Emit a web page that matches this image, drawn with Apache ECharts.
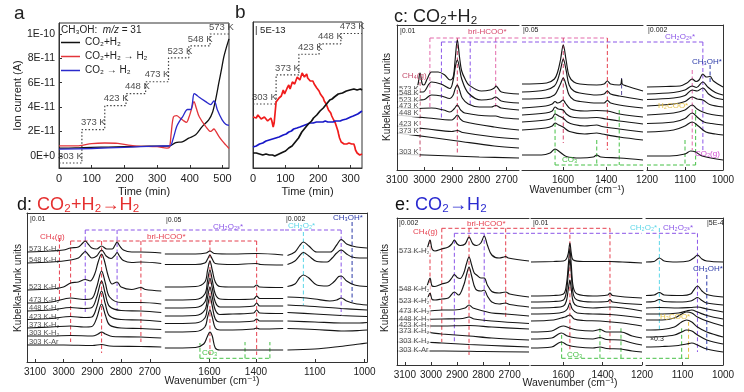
<!DOCTYPE html>
<html>
<head>
<meta charset="utf-8">
<title>chart</title>
<script src="https://cdn.jsdelivr.net/npm/echarts@6.0.0/dist/echarts.min.js"></script>
<style>html,body{margin:0;padding:0;background:#fff;}#chart{width:744px;height:392px;}</style>
</head>
<body>
<div id="chart"></div>
<script>
// ===== Panel a: CH3OH (m/z = 31) ion current, values in units of 1E-11 A, vs time (min) =====
const a_black = [[0,0.63],[50,0.65],[100,0.7],[150,0.72],[200,0.75],[250,0.78],[300,0.8],[340,0.82],[357,1.09],[377,1.15],[397,1.45],[418,1.72],[438,2.4],[458,2.95],[470,3.6],[479,4.6],[489,6.0],[497,7.1],[504,8.1],[512,8.9],[520,9.6]];
const a_red = [[0,0.82],[60,0.82],[70,0.85],[100,1.0],[140,1.05],[180,1.02],[230,0.82],[300,0.75],[330,0.63],[338,0.7],[343,1.8],[350,3.2],[360,3.3],[370,3.1],[380,2.9],[390,2.75],[398,3.2],[405,3.8],[413,4.45],[420,3.9],[429,3.2],[449,2.4],[464,2.0],[474,2.2],[480,2.0],[489,1.6],[500,1.2],[510,0.9],[520,0.6]];
const a_blue = [[0,0.55],[100,0.6],[200,0.7],[300,0.8],[340,0.82],[348,1.3],[360,2.4],[370,2.9],[378,3.2],[393,3.8],[403,3.8],[408,4.3],[413,5.1],[420,5.0],[429,4.8],[449,4.45],[464,4.2],[474,4.5],[479,4.3],[484,3.8],[499,2.95],[510,2.6],[520,2.5]];
const a_step_time = [0,70,140,205,265,335,397,462,520];
const a_step_temp = [303,373,423,448,473,523,548,573];
const a_yticks = [0,2,4,6,8,10];
const a_xticks = [0,100,200,300,400,500];
const legendNames = ['CO\u2082+H\u2082','CO\u2082+H\u2082 \u2192 H\u2082','CO\u2082 \u2192 H\u2082'];

// ===== Panel b: zoomed ion current (relative units, scale bar 5E-13) =====
const b_red = [[0,51],[5,49],[10,50],[15,53],[20,52],[25,49],[30,48],[35,51],[40,50],[45,47],[50,49],[55,50],[58,47],[62,41],[65,45],[68,44],[71,66],[75,64],[80,70],[84,68],[87,72],[90,75],[93,78],[97,74],[100,76],[105,80],[110,83],[114,79],[117,81],[121,86],[124,88],[128,84],[132,86],[136,91],[140,92],[144,88],[147,90],[151,95],[155,96],[158,91],[160,93],[165,94],[168,90],[172,89],[176,87],[180,86],[184,87],[188,84],[192,82],[196,80],[200,79],[203,77],[207,74],[210,72],[213,73],[216,70],[219,67],[222,65],[225,64],[228,62],[232,58],[235,56],[239,55],[242,52],[245,50],[248,48],[250,46],[253,45],[256,42],[258,40],[261,37],[263,34],[266,30],[268,28],[271,26],[274,25],[277,27],[280,24],[283,23],[285,26],[288,24],[290,23],[293,26],[295,25],[298,23],[300,25],[303,24],[305,22],[308,25],[310,24],[313,21],[315,18],[318,16],[320,15],[323,17],[325,14],[328,13],[330,13],[333,15],[335,14]];
const b_blue = [[0,21],[10,22],[20,24],[30,25],[40,27],[50,28],[60,29],[70,30],[80,31],[93,33],[102,34],[110,36],[118,37],[125,39],[135,40],[144,41],[152,42],[160,43],[168,44],[175,45],[185,45],[195,46],[205,46],[215,46],[222,47],[230,46],[238,46],[246,46],[253,47],[260,47],[268,47],[275,48],[281,48],[287,49],[293,50],[300,51],[308,52],[315,53],[322,54],[328,55],[335,57]];
const b_black = [[0,15],[5,14],[10,15],[20,14],[30,13],[40,14],[50,13],[60,13],[67,12],[73,13],[80,14],[85,15],[93,16],[100,17],[105,18],[110,20],[115,21],[120,22],[125,24],[130,26],[134,28],[140,30],[145,33],[150,36],[155,38],[160,40],[165,42],[170,44],[175,46],[180,47],[186,50],[191,52],[196,53],[201,55],[206,57],[211,58],[216,60],[221,62],[226,64],[231,66],[236,68],[243,69],[250,71],[256,72],[262,74],[268,74],[275,75],[281,76],[287,77],[292,77],[298,78],[304,79],[310,79],[315,78],[320,78],[325,79],[330,79],[335,78]];
const b_step_time = [0,71,141,203,270,335];
const b_step_temp = [303,373,423,448,473];
const b_xticks = [0,100,200,300];

// ===== Panel c: CO2+H2 DRIFTS (wavenumber, stacked Kubelka-Munk) =====
const c_labels = ['573 K','548 K','523 K','473 K','448 K','423 K','373 K','303 K'];
const c1_573 = [[3100,79],[3040,80.5],[3026,83],[3016,97],[3008,86],[3002,85],[2990,91],[2974,98],[2950,98],[2926,95],[2906,90],[2895,93],[2888,110],[2880,130],[2872,113],[2864,99],[2850,90],[2838,85],[2792,79],[2760,80],[2745,82],[2739,84],[2732,82],[2719,78],[2655,76]];
const c1_548 = [[3100,75],[3030,76],[3016,78],[3005,78],[2974,88],[2940,86],[2907,81.5],[2895,90],[2888,102],[2880,110],[2872,102],[2864,91],[2840,77],[2792,70],[2756,71],[2740,73],[2720,69],[2655,67]];
const c1_523 = [[3100,68],[3030,69],[3016,70],[3000,70.5],[2974,75],[2938,74],[2907,71.5],[2895,75],[2888,81],[2880,85],[2872,80],[2862,72],[2840,66],[2800,63],[2756,63],[2740,64.5],[2720,62],[2655,60]];
const c1_473 = [[3100,62.5],[3035,61.5],[2974,62],[2930,60],[2907,58],[2892,61],[2880,65],[2868,60],[2853,57],[2760,54],[2740,54],[2720,52.5],[2655,51]];
const c1_448 = [[3100,55],[2986,52],[2901,50],[2890,52],[2880,55],[2869,51],[2857,48.5],[2745,43],[2655,40]];
const c1_423 = [[3100,44],[2986,41],[2900,38.5],[2880,39.5],[2860,37.5],[2745,33],[2655,31]];
const c1_373 = [[3100,37],[2986,33],[2880,29],[2745,24],[2655,22]];
const c1_303 = [[3100,16],[3000,15],[2900,14],[2800,13],[2655,12]];
const c2_573 = [[1790,86],[1676,87],[1640,91],[1625,98],[1612,110],[1599,125],[1586,110],[1572,94],[1550,88],[1522,86],[1444,85],[1410,86],[1395,89],[1380,86],[1340,85],[1332,86],[1329,91],[1326,86],[1306,84],[1230,79]];
const c2_548 = [[1790,78],[1680,80],[1640,84],[1625,90],[1612,100],[1599,111],[1586,100],[1572,85],[1550,79],[1522,77],[1444,75],[1410,76],[1395,79],[1380,76],[1340,74],[1230,70]];
const c2_523 = [[1790,71],[1680,72],[1640,75],[1625,80],[1612,86],[1599,92],[1586,85],[1572,75],[1550,70],[1520,68.5],[1444,67],[1410,67],[1395,69.5],[1380,67],[1340,65],[1230,62]];
const c2_473 = [[1790,62],[1680,64],[1650,66],[1637,68.5],[1625,67],[1612,68],[1600,70],[1588,66.5],[1565,61],[1500,59],[1444,59.5],[1395,59],[1340,56],[1230,53]];
const c2_448 = [[1790,55],[1680,57],[1650,59],[1637,63],[1622,61],[1600,60],[1585,56],[1560,53],[1500,52],[1444,52.5],[1400,51],[1340,49],[1230,46]];
const c2_423 = [[1790,48],[1680,50],[1650,52],[1637,56],[1620,54],[1600,52],[1580,48],[1550,45.5],[1500,44],[1444,45],[1420,43.5],[1340,41],[1230,38]];
const c2_373 = [[1790,40],[1680,42],[1650,44],[1637,47],[1620,45],[1600,43],[1570,38.5],[1500,36],[1444,37],[1420,36],[1340,33],[1230,30]];
const c2_303 = [[1790,15],[1700,15],[1660,17],[1637,21],[1615,18],[1585,13.5],[1520,12],[1460,13],[1444,15],[1425,13],[1340,12],[1230,10]];
const c3_573 = [[1200,83],[1150,83.5],[1113,84],[1095,87],[1081,91],[1071,88.5],[1063,90],[1053,96],[1044,93],[1034,93.5],[1025,89],[1000,83]];
const c3_548 = [[1200,76],[1130,77.5],[1100,80],[1081,84],[1070,82.5],[1053,88],[1040,83],[1020,77.5],[1000,75]];
const c3_523 = [[1200,70.5],[1130,72],[1100,74.5],[1081,80],[1068,79],[1053,82],[1038,76],[1020,72],[1000,70.5]];
const c3_473 = [[1200,64],[1130,66],[1100,68.5],[1081,73],[1068,71],[1053,70],[1035,65.5],[1000,63]];
const c3_448 = [[1200,55],[1130,57],[1100,60],[1081,65],[1068,61],[1053,58],[1030,55.5],[1000,54]];
const c3_423 = [[1200,46.5],[1130,48],[1100,51.5],[1081,57],[1065,52],[1050,48],[1030,46.5],[1000,45]];
const c3_373 = [[1200,38],[1130,40],[1100,44],[1081,48],[1065,44],[1045,38],[1020,36],[1000,35]];
const c3_303 = [[1200,14],[1140,14],[1100,16],[1085,19],[1072,18],[1055,14],[1000,10]];
// assignment guide lines: [colour, w0, v0, w1, v1]
const c1_marks = [['pink',2980,132,2655,132],['pink',2980,132,2980,63],['crimson',2880,132,2880,17],['pink',2740,132,2740,62],['purple',2938,128,2655,128],['purple',2938,128,2938,50],['purple',2833,128,2833,63],['ch4',3016,88,3016,13]];
const c2_marks = [['pink',1790,132,1395,132],['crimson',1599,132,1599,27],['red',1395,132,1395,20],['purple',1790,128,1230,128],['dark',1329,92,1329,75],['green',1637,60,1637,5],['green',1444,30,1444,5],['green',1340,60,1340,5],['green',1637,5,1230,5]];
const c3_marks = [['purple',1200,128,1053,128],['purple',1053,128,1053,20],['pink',1081,100,1081,20],['navy',1034,105,1034,87],['green',1200,5,1072,5],['green',1100,30,1100,5],['green',1072,60,1072,5]];

// ===== Panel d: CO2+H2 -> H2 =====
const d_labels = ['573 K-H\u2082','548 K-H\u2082','523 K-H\u2082','473 K-H\u2082','448 K-H\u2082','423 K-H\u2082','373 K-H\u2082','303 K-H\u2082','303 K-Ar'];
const d1_573 = [[3128,110],[3042,111],[3001,112],[2976,114],[2949,115],[2935,118.5],[2925,121],[2915,118],[2902,114],[2885,113],[2868,116],[2850,113],[2831,113],[2822,116.5],[2814,120],[2806,116.5],[2792,112],[2763,110],[2731,110],[2660,109]];
const d1_548 = [[3128,99],[3042,100],[2976,102],[2949,104],[2935,108],[2925,110.5],[2915,107.5],[2902,104],[2885,106],[2868,112],[2852,106],[2835,103.5],[2822,106.5],[2814,109.5],[2806,106],[2792,101.5],[2763,99.5],[2731,100],[2660,98.5]];
const d1_523 = [[3128,72],[3042,73],[3001,75],[2976,79],[2949,80],[2925,82.5],[2908,81],[2892,88],[2880,100],[2868,108],[2858,101],[2845,86],[2831,78],[2814,80],[2800,75],[2763,72.5],[2731,74.5],[2715,72.5],[2660,71]];
const d1_473 = [[3128,59],[3042,60],[2976,64],[2930,62.5],[2902,63.5],[2885,75],[2868,91],[2855,79],[2840,65],[2800,59.5],[2731,59.5],[2660,58]];
const d1_448 = [[3128,51],[3042,52],[2976,54.5],[2930,53.5],[2902,54.5],[2885,65],[2868,81],[2855,68],[2840,55.5],[2800,51.5],[2731,51],[2660,49.5]];
const d1_423 = [[3128,42.5],[3042,43.5],[2976,45.5],[2930,44.5],[2902,45],[2885,55],[2868,71],[2855,58],[2840,46],[2800,42.5],[2731,42],[2660,40.5]];
const d1_373 = [[3128,34],[3042,35],[2976,36],[2930,35],[2902,35.5],[2885,44],[2868,58],[2855,47],[2840,37],[2800,34],[2731,33.5],[2660,32.5]];
const d1_303H = [[3128,26],[3042,26],[2976,26.5],[2900,26],[2880,28],[2868,30],[2855,28],[2830,25.5],[2731,25],[2660,24]];
const d1_303A = [[3128,17],[3000,17],[2900,16.5],[2868,17.5],[2840,16],[2731,15.5],[2660,15]];
const d2_573 = [[1792,108],[1660,108],[1615,109],[1598,111],[1580,108.5],[1500,108],[1397,108.5],[1283,107]];
const d2_548 = [[1792,97.5],[1660,97.5],[1620,99],[1608,103],[1598,107],[1588,103],[1575,98.5],[1500,97.5],[1397,98.5],[1380,97.5],[1283,97]];
const d2_523 = [[1792,75],[1660,75.5],[1620,80],[1608,92],[1598,101],[1588,92],[1575,80],[1555,75.5],[1500,75],[1410,75],[1397,77],[1385,75],[1283,74.5]];
const d2_473 = [[1792,62],[1660,62.5],[1620,68],[1608,82],[1598,92],[1588,82],[1575,68],[1555,63],[1500,62.5],[1410,63],[1397,66],[1384,63.5],[1283,63.5]];
const d2_448 = [[1792,54],[1660,54.5],[1620,60],[1608,74],[1598,84],[1588,74],[1575,60],[1555,55],[1500,55],[1410,56],[1397,59],[1384,56],[1283,56]];
const d2_423 = [[1792,46],[1660,46.5],[1620,52],[1608,65],[1598,75],[1588,65],[1575,52],[1555,47.5],[1500,48],[1410,49],[1397,52],[1384,49],[1283,48.5]];
const d2_373 = [[1792,38.5],[1660,39],[1620,44],[1608,56],[1598,66],[1588,56],[1575,43],[1555,40],[1500,40],[1410,41],[1397,43],[1384,41],[1283,41]];
const d2_303H = [[1792,30],[1660,30.5],[1620,35],[1608,45],[1598,52],[1588,45],[1575,34],[1555,32],[1500,32],[1410,33],[1397,34],[1384,33],[1283,33.5]];
const d2_303A = [[1792,14],[1660,14.5],[1625,18],[1610,25],[1598,30],[1588,26],[1575,14],[1555,12],[1500,12],[1400,12],[1283,12]];
const d3_573 = [[1155,106.5],[1140,110],[1131,116],[1123,120],[1112,116],[1096,110],[1069,110],[1056,117],[1047,122.5],[1036,118],[1025,116],[1016,115],[995,114]];
const d3_548 = [[1155,97.5],[1140,101],[1131,106],[1123,109.5],[1112,106],[1096,100.5],[1075,100],[1065,104],[1056,109],[1047,112],[1036,108],[1025,105],[1010,104],[995,104]];
const d3_523 = [[1155,75.5],[1140,78],[1131,84],[1123,87],[1112,84],[1096,77],[1075,76],[1062,80],[1052,85.5],[1047,86],[1036,81],[1020,77],[995,75.5]];
const d3_473 = [[1155,65],[1130,64.5],[1100,63],[1070,61],[1056,62],[1047,64],[1036,61],[1020,58.5],[995,57]];
const d3_448 = [[1155,57],[1100,55.5],[1047,53.5],[995,52]];
const d3_423 = [[1155,49.5],[1100,48],[1047,46.5],[995,45.5]];
const d3_373 = [[1155,41],[1100,40],[1047,39],[1010,39],[995,39.5]];
const d3_303H = [[1155,33.5],[1100,32.5],[1047,31],[1010,31.5],[995,32]];
const d3_303A = [[1155,12],[1100,13],[1050,15.5],[1010,18],[995,19]];
const d1_marks = [['red',2976,121,2654,121],['red',2976,121,2976,20],['red',2868,121,2868,9],['red',2731,121,2731,20],['purple',2925,132,2654,132],['purple',2925,132,2925,50],['purple',2814,132,2814,52],['red',3015,124,3015,59]];
const d2_marks = [['red',1800,121,1397,121],['red',1598,121,1598,7],['red',1397,121,1397,7],['purple',1800,132,1275,132],['green',1641,3.7,1340,3.7],['green',1641,3.7,1641,19],['green',1447,3.7,1447,20],['green',1340,3.7,1340,20]];
const d3_marks = [['purple',1160,132,1047,132],['purple',1047,132,1047,47],['cyan',1123,130,1123,57],['navy',1025,140,1025,60]];

// ===== Panel e: CO2 -> H2 =====
const e_labels = d_labels;
const e1_573 = [[3130,113],[3042,113],[3018,115],[3004,125],[2996,116],[2985,114],[2959,116],[2934,118],[2921,121],[2911,125],[2900,121],[2889,119.5],[2870,121],[2855,128],[2840,121],[2826,119.5],[2810,122],[2797,129],[2785,120],[2768,110],[2740,107],[2722,108],[2715,108.5],[2705,107],[2626,104]];
const e1_548 = [[3130,75],[3042,76],[3018,78],[3004,87],[2996,79],[2985,78.5],[2959,81],[2934,83],[2921,87],[2911,90.5],[2900,87.5],[2889,86.5],[2875,92],[2865,101],[2855,108],[2845,100],[2835,92],[2826,90],[2810,87],[2797,87],[2785,80],[2768,73.5],[2740,72],[2715,73],[2700,71],[2626,68]];
const e1_523 = [[3130,63],[3042,64],[3018,65],[3004,72],[2996,65.5],[2985,65],[2959,66],[2934,67],[2911,73],[2895,70],[2875,80],[2865,90],[2855,98],[2845,89],[2830,76],[2810,74],[2797,75],[2785,69],[2768,63],[2740,61],[2715,62],[2700,60.5],[2626,58]];
const e1_473 = [[3130,53],[3042,53.5],[3004,54],[2959,55],[2911,55],[2870,57],[2855,60],[2840,57],[2800,54],[2768,52],[2715,51],[2626,49]];
const e1_448 = [[3130,45],[3042,45.5],[2959,46],[2880,46.5],[2855,48],[2835,46],[2768,44],[2626,41.5]];
const e1_423 = [[3130,39],[3042,39],[2959,39],[2855,39.5],[2768,38],[2626,36]];
const e1_373 = [[3130,33],[3042,33],[2959,31],[2855,29],[2768,27],[2626,25]];
const e1_303H = [[3130,23],[3042,23],[2959,22],[2855,20.5],[2768,19.5],[2626,18]];
const e1_303A = [[3130,14],[2950,14],[2800,13.5],[2626,13]];
const e2_573 = [[1765,103],[1650,103.5],[1600,104],[1585,106],[1575,112],[1567,122],[1560,112],[1550,105],[1500,103.5],[1363,103.5],[1300,103],[1200,102]];
const e2_548 = [[1765,69],[1650,69.5],[1600,71],[1585,80],[1575,100],[1567,116],[1560,100],[1550,78],[1530,71],[1450,69],[1375,70],[1363,72],[1350,69.5],[1200,67]];
const e2_523 = [[1765,63],[1650,63.5],[1600,65],[1585,73],[1575,92],[1567,106],[1560,92],[1550,71],[1530,65],[1450,63],[1375,63.5],[1363,65.5],[1350,63],[1200,60.5]];
const e2_473 = [[1765,57],[1650,57.5],[1600,59],[1585,64],[1575,76],[1567,85],[1560,76],[1550,63],[1530,59],[1450,57],[1363,58],[1200,54]];
const e2_448 = [[1765,51],[1650,51.5],[1600,53],[1580,56],[1567,62],[1555,56],[1530,52],[1450,51],[1363,50.5],[1200,47]];
const e2_423 = [[1765,44],[1650,45],[1610,47],[1590,48],[1567,50],[1545,46],[1500,44.5],[1414,44],[1300,42],[1200,39]];
const e2_373 = [[1765,33],[1660,34],[1620,38],[1600,39],[1570,37],[1530,35],[1450,34],[1414,35.5],[1380,33],[1307,33],[1250,29],[1200,27]];
const e2_303H = [[1765,26],[1660,27],[1625,31],[1610,32],[1580,29],[1530,27],[1450,26],[1414,27.5],[1380,25.5],[1307,25],[1250,22],[1200,20]];
const e2_303A = [[1765,17],[1660,18],[1625,22],[1610,23],[1580,20],[1530,18],[1450,17],[1414,18],[1380,16.5],[1307,16],[1250,14],[1200,13]];
const e3_573 = [[1190,103],[1170,103.5],[1157,107],[1145,104],[1114,103],[1085,104],[1072,107],[1063,110],[1052,106],[1040,104],[1000,103]];
const e3_548 = [[1190,69.5],[1170,70],[1157,72.5],[1145,70],[1100,69.5],[1080,71],[1072,75],[1063,79],[1052,74],[1040,70.5],[1000,68]];
const e3_523 = [[1190,63],[1170,63.5],[1157,65.5],[1145,63.5],[1100,63],[1080,64],[1072,65.5],[1063,67.5],[1052,64.5],[1040,62],[1000,60]];
const e3_473 = [[1190,57],[1157,57.5],[1110,57],[1080,57.5],[1063,58],[1040,56],[1000,53]];
const e3_448 = [[1190,51],[1150,51],[1110,52],[1090,54],[1077,55],[1063,53],[1040,49.5],[1000,46]];
const e3_423 = [[1190,45],[1150,45],[1120,47],[1102,51],[1090,53],[1077,52],[1063,48],[1040,44],[1000,39]];
const e3_373 = [[1190,35],[1150,35.5],[1120,38],[1102,43],[1090,45],[1077,43],[1063,38],[1040,33],[1000,28]];
const e3_303H = [[1190,28],[1150,28.5],[1120,30],[1102,33],[1090,35],[1077,34],[1063,30],[1040,25],[1000,21]];
const e3_303A = [[1190,18],[1150,18.5],[1110,19.5],[1090,21],[1077,22],[1063,20],[1040,16],[1000,13]];
const e1_marks = [['red',2959,136.7,2626,136.7],['red',2959,136.7,2959,23],['red',2855,136.7,2855,10],['red',2715,136.7,2715,48],['purple',2911,131.7,2626,131.7],['purple',2911,131.7,2911,23],['purple',2797,131.7,2797,42],['red',3004,125,3004,33]];
const e2_marks = [['red',1765,136.7,1363,136.7],['red',1567,136.7,1567,13],['red',1363,136.7,1363,13],['purple',1765,131.7,1200,131.7],['green',1609,6.7,1200,6.7],['green',1609,6.7,1609,30],['green',1414,6.7,1414,38],['green',1307,6.7,1307,38]];
const e3_marks = [['purple',1190,131.7,1063,131.7],['purple',1063,131.7,1063,13],['cyan',1157,137,1157,35],['navy',1040,90,1040,13],['green',1190,6.7,1081,6.7],['green',1102,6.7,1102,38],['yellow',1085,6.7,1085,45]];

// ===================== building the chart =====================
const FONT = "'Liberation Sans','DejaVu Sans',Arial,sans-serif";
const COL = {red:'#e5404f', crimson:'#d6486e', pink:'#e36aab', purple:'#8b56e8', navy:'#2b3aa8', green:'#46c046', cyan:'#5cd6e8', yellow:'#e6c34a', magenta:'#d04cd0', ch4:'#c24a6a', dark:'#5a4a9a'};
const grids = [], xAxis = [], yAxis = [], series = [], graphic = [];
const plain = v => String(v);

function txt(x, y, text, o) {
  o = o || {};
  graphic.push({type:'text', x:x, y:y, rotation:o.rot || 0, silent:true, z:50,
    style:{text:text, fill:o.color || '#222', fontSize:o.size || 8, fontFamily:FONT,
      fontWeight:o.weight || 'normal', align:o.align || 'left', verticalAlign:'middle', rich:o.rich}});
}
const hidden = {axisLine:{show:false}, axisTick:{show:false}, axisLabel:{show:false}, splitLine:{show:false}};
const lineAx = {show:true, onZero:false, lineStyle:{color:'#333', width:1}};

function staircase(times, temps) {
  const pts = [];
  temps.forEach((T, i) => { pts.push([times[i], T]); pts.push([times[i + 1], T]); });
  return pts;
}
const stepLabel = {show:true, position:'right', distance:0, offset:[-1,-7], fontSize:9.5, color:'#222', fontFamily:FONT, formatter: p => p.value[1] + ' K'};

// ---- panel a ----
(function () {
  const g = grids.length;
  grids.push({left:59, top:23, width:170, height:145, show:true, borderColor:'#333', borderWidth:1, containLabel:false, outerBoundsMode:'none'});
  const xi = xAxis.length;
  xAxis.push({type:'value', gridIndex:g, min:0, max:520, axisLine:lineAx,
    axisTick:{show:true, inside:true, length:3, customValues:a_xticks, lineStyle:{color:'#333'}},
    axisLabel:{customValues:a_xticks, fontSize:11, color:'#222', margin:5, fontFamily:FONT, formatter:plain},
    splitLine:{show:false}, name:'Time (min)', nameLocation:'middle', nameGap:18,
    nameTextStyle:{fontSize:11, color:'#222', fontFamily:FONT}});
  const yi = yAxis.length;
  yAxis.push({type:'value', gridIndex:g, min:-1, max:10.9, axisLine:lineAx,
    axisTick:{show:true, inside:true, length:3, customValues:a_yticks, lineStyle:{color:'#333'}},
    axisLabel:{customValues:a_yticks, fontSize:10.5, color:'#222', margin:4, fontFamily:FONT,
      formatter: v => v === 0 ? '0E+0' : (v === 10 ? '1E-10' : v + 'E-11')},
    splitLine:{show:false}, name:'Ion current (A)', nameLocation:'middle', nameGap:35,
    nameTextStyle:{fontSize:11, color:'#222', fontFamily:FONT}});
  const ti = yAxis.length;
  yAxis.push(Object.assign({type:'value', gridIndex:g, min:292.5, max:596}, hidden));
  series.push({type:'line', name:'steps', xAxisIndex:xi, yAxisIndex:ti, data:staircase(a_step_time, a_step_temp), symbol:'none', silent:true, z:2,
    lineStyle:{color:'#444', width:1.2, type:[1.5,2]}});
  series.push({type:'scatter', xAxisIndex:xi, yAxisIndex:ti, symbolSize:0, silent:true, z:6,
    data:a_step_temp.map((T, i) => [a_step_time[i], T]), label:stepLabel});
  const cols = ['#111', '#e3343a', '#2a2acb'];
  [a_black, a_red, a_blue].forEach((d, i) => series.push({type:'line', name:legendNames[i], xAxisIndex:xi, yAxisIndex:yi, data:d, symbol:'none', smooth:0.3, z:4, lineStyle:{color:cols[i], width:1.3}, itemStyle:{color:cols[i]}}));
})();

// ---- panel b ----
(function () {
  const g = grids.length;
  grids.push({left:253, top:22, width:109, height:146, show:true, borderColor:'#333', borderWidth:1, containLabel:false, outerBoundsMode:'none'});
  const xi = xAxis.length;
  xAxis.push({type:'value', gridIndex:g, min:0, max:335, axisLine:lineAx,
    axisTick:{show:true, inside:true, length:3, customValues:b_xticks, lineStyle:{color:'#333'}},
    axisLabel:{customValues:b_xticks, fontSize:11, color:'#222', margin:5, fontFamily:FONT, formatter:plain},
    splitLine:{show:false}, name:'Time (min)', nameLocation:'middle', nameGap:18,
    nameTextStyle:{fontSize:11, color:'#222', fontFamily:FONT}});
  const yi = yAxis.length;
  yAxis.push(Object.assign({type:'value', gridIndex:g, min:0, max:146}, hidden, {axisLine:lineAx}));
  const ti = yAxis.length;
  yAxis.push(Object.assign({type:'value', gridIndex:g, min:148.7, max:500.7}, hidden));
  series.push({type:'line', xAxisIndex:xi, yAxisIndex:ti, data:staircase(b_step_time, b_step_temp), symbol:'none', silent:true, z:2,
    lineStyle:{color:'#444', width:1.2, type:[1.5,2]}});
  series.push({type:'scatter', xAxisIndex:xi, yAxisIndex:ti, symbolSize:0, silent:true, z:6,
    data:b_step_temp.map((T, i) => [b_step_time[i], T]), label:stepLabel});
  const cols = ['#f01c1c', '#1818c8', '#111'];
  [b_red, b_blue, b_black].forEach((d, i) => series.push({type:'line', xAxisIndex:xi, yAxisIndex:yi, data:d, symbol:'none', silent:true, z:4, lineStyle:{color:cols[i], width:1.7}}));
})();

// ---- spectral panels ----
function buildSpectra(p) {
  p.subs.forEach((s, k) => {
    const g = grids.length;
    grids.push({left:s.left, top:p.top, width:s.width, height:p.height, show:false, containLabel:false, outerBoundsMode:'none'});
    const xb = xAxis.length;
    xAxis.push({type:'value', gridIndex:g, min:s.min, max:s.max, inverse:true, position:'bottom', axisLine:lineAx,
      axisTick:{show:true, inside:true, length:3, customValues:s.ticks, lineStyle:{color:'#333'}},
      axisLabel:{show:true, customValues:s.ticks, fontSize:10, color:'#222', margin:5, fontFamily:FONT, formatter:plain},
      splitLine:{show:false}});
    xAxis.push(Object.assign({type:'value', gridIndex:g, min:s.min, max:s.max, inverse:true, position:'top'}, hidden, {axisLine:lineAx}));
    const yi = yAxis.length;
    yAxis.push(Object.assign({type:'value', gridIndex:g, min:0, max:p.height, position:'left'}, hidden, {axisLine:Object.assign({}, lineAx, {show:k === 0})}));
    if (k === p.subs.length - 1) yAxis.push(Object.assign({type:'value', gridIndex:g, min:0, max:p.height, position:'right'}, hidden, {axisLine:lineAx}));
    s.marks.forEach(m => series.push({type:'line', xAxisIndex:xb, yAxisIndex:yi, data:[[m[1], m[2]], [m[3], m[4]]], symbol:'none', silent:true, z:2,
      lineStyle:{color:COL[m[0]], width:1, type:[4, 2.5]}}));
    s.curves.forEach(d => series.push({type:'line', xAxisIndex:xb, yAxisIndex:yi, data:d, symbol:'none', smooth:0.35, silent:true, z:3,
      lineStyle:{color:'#151515', width:1.15}}));
    if (k === 0) series.push({type:'scatter', xAxisIndex:xb, yAxisIndex:yi, symbolSize:0, silent:true, z:5,
      data:s.curves.map((d, i) => ({value:d[0], label:{formatter:p.labels[i]}})),
      label:{show:true, position:'right', distance:1, offset:[0, p.labelOffset], fontSize:7.5, color:'#222', fontFamily:FONT, backgroundColor:p.labelBg, padding:[0,1]}});
  });
}

buildSpectra({top:25, height:145, labels:c_labels, labelOffset:-2, labelBg:'#fff', subs:[
  {left:397, width:122, min:2655, max:3100, ticks:[3100,3000,2900,2800,2700], curves:[c1_573,c1_548,c1_523,c1_473,c1_448,c1_423,c1_373,c1_303], marks:c1_marks},
  {left:522, width:121, min:1230, max:1790, ticks:[1600,1400], curves:[c2_573,c2_548,c2_523,c2_473,c2_448,c2_423,c2_373,c2_303], marks:c2_marks},
  {left:647, width:76, min:1000, max:1200, ticks:[1200,1100,1000], curves:[c3_573,c3_548,c3_523,c3_473,c3_448,c3_423,c3_373,c3_303], marks:c3_marks}]});

buildSpectra({top:213, height:149, labels:d_labels, labelOffset:-3, labelBg:'transparent', subs:[
  {left:27, width:136, min:2654, max:3128, ticks:[3100,3000,2900,2800,2700], curves:[d1_573,d1_548,d1_523,d1_473,d1_448,d1_423,d1_373,d1_303H,d1_303A], marks:d1_marks},
  {left:163, width:122, min:1275, max:1800, ticks:[1600,1400], curves:[d2_573,d2_548,d2_523,d2_473,d2_448,d2_423,d2_373,d2_303H,d2_303A], marks:d2_marks},
  {left:285, width:82, min:995, max:1160, ticks:[1100,1000], curves:[d3_573,d3_548,d3_523,d3_473,d3_448,d3_423,d3_373,d3_303H,d3_303A], marks:d3_marks}]});

buildSpectra({top:218, height:147, labels:e_labels, labelOffset:-1, labelBg:'#fff', subs:[
  {left:397, width:132, min:2626, max:3130, ticks:[3100,3000,2900,2800,2700], curves:[e1_573,e1_548,e1_523,e1_473,e1_448,e1_423,e1_373,e1_303H,e1_303A], marks:e1_marks},
  {left:531, width:111, min:1200, max:1765, ticks:[1600,1400,1200], curves:[e2_573,e2_548,e2_523,e2_473,e2_448,e2_423,e2_373,e2_303H,e2_303A], marks:e2_marks},
  {left:646, width:77, min:1000, max:1190, ticks:[1100,1000], curves:[e3_573,e3_548,e3_523,e3_473,e3_448,e3_423,e3_373,e3_303H,e3_303A], marks:e3_marks}]});

// ---- texts ----
txt(14, 14, 'a', {size:19});
txt(235, 13, 'b', {size:19});
txt(61, 30, '{n|CH\u2083OH:  }{i|m/z}{n| = 31}', {size:10, rich:{n:{fontSize:10, fontFamily:FONT, fill:'#222'}, i:{fontSize:10, fontFamily:FONT, fontStyle:'italic', fill:'#222'}}});
txt(255, 30, '| 5E-13', {size:9.5});
txt(394, 17, 'c: CO\u2082+H\u2082', {size:18});
txt(17, 205, '{k|d: }{r|CO\u2082+H\u2082\u2192H\u2082}', {size:18, rich:{k:{fontSize:18, fontFamily:FONT, fill:'#111'}, r:{fontSize:18, fontFamily:FONT, fill:'#e53030'}}});
txt(395, 205, '{k|e: }{b|CO\u2082\u2192H\u2082}', {size:18, rich:{k:{fontSize:18, fontFamily:FONT, fill:'#111'}, b:{fontSize:18, fontFamily:FONT, fill:'#2a2ad0'}}});
// axis names
txt(577, 190, 'Wavenumber (cm\u207B\u00B9)', {size:10.5, align:'center'});
txt(212, 381, 'Wavenumber (cm\u207B\u00B9)', {size:10.5, align:'center'});
txt(570, 383, 'Wavenumber (cm\u207B\u00B9)', {size:10.5, align:'center'});
txt(387, 97, 'Kubelka-Munk units', {size:10, align:'center', rot:Math.PI / 2});
txt(18, 288, 'Kubelka-Munk units', {size:10, align:'center', rot:Math.PI / 2});
txt(385, 288, 'Kubelka-Munk units', {size:10, align:'center', rot:Math.PI / 2});
// panel c annotations
txt(400, 31, '|0.01', {size:7}); txt(523, 30, '|0.05', {size:7}); txt(648, 30, '|0.002', {size:7});
txt(468, 32, 'bri-HCOO*', {color:COL.crimson}); txt(665, 37, 'CH\u2082O\u2082\u209B*', {color:COL.purple});
txt(692, 62, 'CH\u2083OH*', {color:COL.navy}); txt(402, 76, 'CH\u2084(g)', {color:COL.ch4});
txt(658, 106, 'H\u2082COO*', {color:COL.yellow}); txt(562, 160, 'CO\u2083', {color:COL.green});
txt(695, 154, 'CO\u2082(g)', {color:COL.magenta});
// panel d annotations
txt(30, 219, '|0.01', {size:7}); txt(166, 220, '|0.05', {size:7}); txt(286, 219, '|0.002', {size:7});
txt(40, 237, 'CH\u2084(g)', {color:COL.red}); txt(147, 237, 'bri-HCOO*', {color:COL.red});
txt(213, 227, 'CH\u2082O\u2082\u209B*', {color:COL.purple}); txt(288, 226, 'CH\u2082O\u2082*', {color:COL.cyan});
txt(333, 218, 'CH\u2083OH*', {color:COL.navy}); txt(202, 353, 'CO\u2083', {color:COL.green});
// panel e annotations
txt(399, 223, '|0.002', {size:7}); txt(533, 223, '|0.01', {size:7}); txt(707, 223, '|5E-4', {size:7});
txt(413, 232, 'CH\u2084(g)', {color:COL.red}); txt(467, 224, 'bri-HCOO*', {color:COL.red});
txt(630, 228, 'CH\u2082O\u2082*', {color:COL.cyan}); txt(663, 228, 'CH\u2082O\u2082\u209B*', {color:COL.purple});
txt(693, 269, 'CH\u2083OH*', {color:COL.navy}); txt(660, 317, 'H\u2082COO*', {color:COL.yellow});
txt(650, 339, '\u00D70.3', {size:7}); txt(567, 355, 'CO\u2083', {color:COL.green});

const chart = echarts.init(document.getElementById('chart'), null, {renderer:'canvas'});
chart.setOption({
  animation:false,
  backgroundColor:'#fff',
  textStyle:{fontFamily:FONT},
  legend:{show:true, left:61, top:37, orient:'vertical', icon:'rect', itemWidth:19, itemHeight:1.5, itemGap:3, padding:0,
    textStyle:{fontSize:10, color:'#222', fontFamily:FONT, lineHeight:11}, data:legendNames, selectedMode:false},
  grid:grids, xAxis:xAxis, yAxis:yAxis, series:series, graphic:graphic
});
</script>
</body>
</html>
